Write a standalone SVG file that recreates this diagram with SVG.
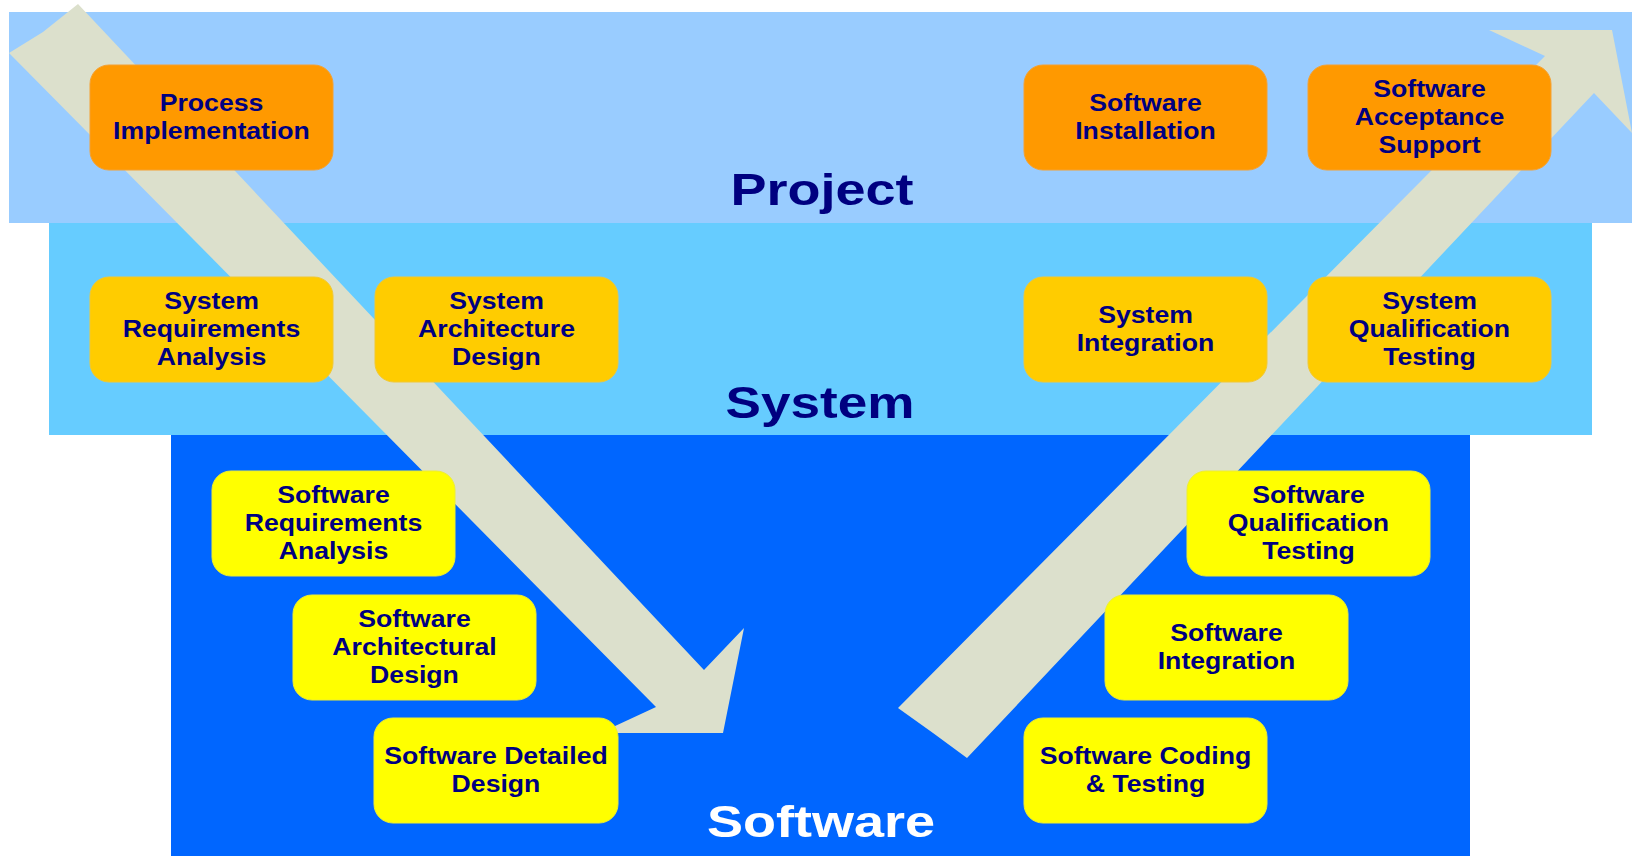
<svg xmlns="http://www.w3.org/2000/svg" width="1632" height="856" viewBox="0 0 1632 856">
<style>
.box{stroke-width:1}
.orange{fill:#FF9900;stroke:#F5A030}
.gold{fill:#FFCC00;stroke:#F2C830}
.yellow{fill:#FFFF00;stroke:#EEEE30}
.lbl{font-family:"Liberation Sans",Arial,sans-serif;font-weight:bold;font-size:24px;fill:#000080;text-anchor:middle}
.title{font-family:"Liberation Sans",Arial,sans-serif;font-weight:bold;font-size:45px;text-anchor:middle}
.arrow{fill:#DCE0CC}
</style>
<rect width="1632" height="856" fill="#FFFFFF"/>
<g id="bands">
<rect x="9" y="12" width="1623" height="211" fill="#99CCFF"/>
<rect x="49" y="223" width="1543" height="212" fill="#66CCFF"/>
<rect x="171" y="435" width="1299" height="421" fill="#0066FF"/>
</g>
<g id="connectors">
<polygon class="arrow" points="78,4 704,670 744,628 723,733 600,733 656,707 9,53 43,32"/>
<polygon class="arrow" points="898,708 1545,56 1489,30 1612,30 1632,133 1594,93 967,758 933,733"/>
</g>
<g id="titles">
<text class="title" fill="#000080" transform="translate(822 205) scale(1.2 1)" x="0" y="0">Project</text>
<text class="title" fill="#000080" transform="translate(820 418) scale(1.18 1)" x="0" y="0">System</text>
<text class="title" fill="#FFFFFF" transform="translate(821 837) scale(1.2 1)" x="0" y="0">Software</text>
</g>
<g id="process-implementation">
<rect class="box orange" x="90" y="65" width="243" height="105" rx="19"/>
<text class="lbl" transform="translate(211.5 0) scale(1.11 1)"><tspan x="0" y="111">Process</tspan><tspan x="0" y="139">Implementation</tspan></text>
</g>
<g id="software-installation">
<rect class="box orange" x="1024" y="65" width="243" height="105" rx="19"/>
<text class="lbl" transform="translate(1145.5 0) scale(1.11 1)"><tspan x="0" y="111">Software</tspan><tspan x="0" y="139">Installation</tspan></text>
</g>
<g id="software-acceptance-support">
<rect class="box orange" x="1308" y="65" width="243" height="105" rx="19"/>
<text class="lbl" transform="translate(1429.5 0) scale(1.11 1)"><tspan x="0" y="97">Software</tspan><tspan x="0" y="125">Acceptance</tspan><tspan x="0" y="153">Support</tspan></text>
</g>
<g id="system-requirements-analysis">
<rect class="box gold" x="90" y="277" width="243" height="105" rx="19"/>
<text class="lbl" transform="translate(211.5 0) scale(1.11 1)"><tspan x="0" y="309">System</tspan><tspan x="0" y="337">Requirements</tspan><tspan x="0" y="365">Analysis</tspan></text>
</g>
<g id="system-architecture-design">
<rect class="box gold" x="375" y="277" width="243" height="105" rx="19"/>
<text class="lbl" transform="translate(496.5 0) scale(1.11 1)"><tspan x="0" y="309">System</tspan><tspan x="0" y="337">Architecture</tspan><tspan x="0" y="365">Design</tspan></text>
</g>
<g id="system-integration">
<rect class="box gold" x="1024" y="277" width="243" height="105" rx="19"/>
<text class="lbl" transform="translate(1145.5 0) scale(1.11 1)"><tspan x="0" y="323">System</tspan><tspan x="0" y="351">Integration</tspan></text>
</g>
<g id="system-qualification-testing">
<rect class="box gold" x="1308" y="277" width="243" height="105" rx="19"/>
<text class="lbl" transform="translate(1429.5 0) scale(1.11 1)"><tspan x="0" y="309">System</tspan><tspan x="0" y="337">Qualification</tspan><tspan x="0" y="365">Testing</tspan></text>
</g>
<g id="software-requirements-analysis">
<rect class="box yellow" x="212" y="471" width="243" height="105" rx="19"/>
<text class="lbl" transform="translate(333.5 0) scale(1.11 1)"><tspan x="0" y="503">Software</tspan><tspan x="0" y="531">Requirements</tspan><tspan x="0" y="559">Analysis</tspan></text>
</g>
<g id="software-architectural-design">
<rect class="box yellow" x="293" y="595" width="243" height="105" rx="19"/>
<text class="lbl" transform="translate(414.5 0) scale(1.11 1)"><tspan x="0" y="627">Software</tspan><tspan x="0" y="655">Architectural</tspan><tspan x="0" y="683">Design</tspan></text>
</g>
<g id="software-detailed-design">
<rect class="box yellow" x="374" y="718" width="244" height="105" rx="19"/>
<text class="lbl" transform="translate(496 0) scale(1.11 1)"><tspan x="0" y="764">Software Detailed</tspan><tspan x="0" y="792">Design</tspan></text>
</g>
<g id="software-qualification-testing">
<rect class="box yellow" x="1187" y="471" width="243" height="105" rx="19"/>
<text class="lbl" transform="translate(1308.5 0) scale(1.11 1)"><tspan x="0" y="503">Software</tspan><tspan x="0" y="531">Qualification</tspan><tspan x="0" y="559">Testing</tspan></text>
</g>
<g id="software-integration">
<rect class="box yellow" x="1105" y="595" width="243" height="105" rx="19"/>
<text class="lbl" transform="translate(1226.5 0) scale(1.11 1)"><tspan x="0" y="641">Software</tspan><tspan x="0" y="669">Integration</tspan></text>
</g>
<g id="software-coding-testing">
<rect class="box yellow" x="1024" y="718" width="243" height="105" rx="19"/>
<text class="lbl" transform="translate(1145.5 0) scale(1.11 1)"><tspan x="0" y="764">Software Coding</tspan><tspan x="0" y="792">&amp; Testing</tspan></text>
</g>
</svg>
